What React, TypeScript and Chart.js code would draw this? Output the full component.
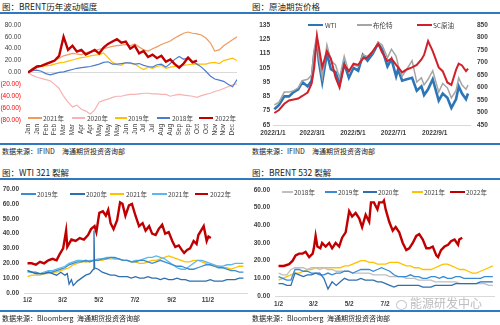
import React, { useEffect, useRef } from 'react';
import { Chart, registerables } from 'chart.js';
Chart.register(...registerables);

const FONT = '"Liberation Sans", Arial, sans-serif';
const CJK = '"Noto Sans CJK SC", "Liberation Sans", sans-serif';
const RULE = '#2F78C2';
const TXT = '#404040';

// ---------- Panel 1: BRENT历年波动幅度 ----------
const p1Months = ['Jan','Jan','Feb','Feb','Mar','Mar','Apr','Apr','May','May','May','Jun','Jun','Jul','Jul','Aug','Aug','Sep','Sep','Oct','Oct','Nov','Nov','Dec'];
const p1Y2021 = [0,3,8,11,15,18,20,24,28,30,32,31,30,33,35,37,39,40,42,44,45,46,47,45,48,43,38,36,40,43,47,50,53,58,62,66,68,66,65,63,58,50,36,38,45,50,55,60];
const p1Y2020 = [0,-5,-8,-10,-12,-14,-20,-27,-40,-50,-58,-55,-62,-65,-70,-63,-50,-47,-45,-42,-40,-40,-38,-37,-37,-36,-35,-35,-36,-36,-37,-37,-40,-38,-37,-38,-39,-40,-42,-39,-37,-35,-32,-30,-27,-24,-21,-19];
const p1Y2019 = [0,7,9,10,11,12,14,16,17,19,21,23,25,26,28,29,30,33,25,17,13,12,17,15,14,9,5,9,7,10,12,7,9,10,11,12,13,14,14,14,14,16,17,15,20,22,24,20];
const p1Y2018 = [0,3,4,2,-2,-4,-2,0,1,3,5,7,8,9,10,12,14,17,18,14,14,15,16,16,14,15,12,10,9,13,14,9,15,22,27,22,25,18,14,9,2,-6,-11,-13,-15,-20,-24,-12];
const p1Y2022 = [0,5,10,11,14,17,20,28,60,38,45,35,38,30,34,38,32,42,48,52,56,50,52,40,45,32,36,26,30,24,28,18,22,14,8,15,25,17,20];

// ---------- Panel 2: 原油期货价格 ----------
const p2TickDays = [0, 59, 120, 181, 243];
const p2TickLabels = ['2022/1/1', '2022/3/1', '2022/5/1', '2022/7/1', '2022/9/1'];
const p2Days = [2,9,17,24,31,38,44,52,58,62,66,69,74,81,87,94,100,107,114,121,128,135,142,150,158,164,172,178,185,188,194,201,209,216,223,227,233,240,249,255,262,268,275,279,284,290,293];
const p2WTI = [76,79,85,85,88,90,95,92,96,115,123,109,95,115,104,102,94,108,98,105,103,114,110,115,122,118,106,111,99,104,96,97,98,89,92,86,90,97,82,87,84,77,83,92,87,83,87];
const p2Brent = [79,81,88,88,89,91,96,97,100,118,128,112,98,121,110,107,98,113,102,107,106,114,113,116,123,121,112,118,113,107,99,104,110,95,98,93,97,103,88,94,91,84,89,98,93,90,93];
const p2SC = [498,510,535,548,552,556,566,580,615,680,805,760,680,745,715,640,600,690,665,695,690,715,720,745,775,740,705,715,690,680,660,672,680,690,712,730,785,745,680,665,620,610,670,695,688,665,675];

// ---------- Panels 3 & 4: shared weekly grid ----------
const weekDays = [1,8,15,22,29,36,43,50,57,64,71,78,85,92,99,106,113,120,127,134,141,148,155,162,169,176,183,190,197,204,211,218,225,232,239,246,253,260,267,274,281,288,295,302,309,316,323,330,337,344,351,358,365];
const crackTickDays = [1, 60, 121, 182, 244, 305];
const crackTickLabels = ['1/2', '3/2', '5/2', '7/2', '9/2', '11/2'];

// ---------- Panel 3: WTI 321 裂解 ----------
const p3Y2019 = [15,14,14,13,13,14,14,15,16,17,19,20,21,21,22,21,22,22,23,23,24,24,23,22,22,21,21,22,22,21,20,21,22,21,20,19,18,18,17,16,16,17,18,19,19,18,17,17,16,15,15,14,14];
const p3Days2020 = [1,8,15,22,29,36,43,50,57,64,68,71,75,78,85,92,99,106,112,113,114,120,127,134,141,148,155,162,169,176,183,190,197,204,211,218,225,232,239,246,253,260,267,274,281,288,295,302,309,316,323,330,337,344,351,358,365];
const p3Y2020 = [15,14,13,13,13,14,13,12,14,12,13,6,9,5,8,10,12,13,16,42,17,16,14,13,12,12,11,11,11,10,11,10,10,11,10,10,9,10,9,9,10,9,9,8,8,8,8,8,9,8,8,8,9,9,9,10,10];
const p3Y2021 = [11,12,12,12,13,13,14,14,15,16,17,19,20,21,21,21,22,22,22,23,23,23,23,22,22,21,21,20,20,21,22,22,23,24,25,24,23,22,21,21,22,22,21,20,19,18,18,17,17,16,17,18,18];
const p3Y2021b = [14,14,13,13,14,15,15,16,17,18,20,21,22,22,21,22,22,23,23,24,24,23,23,22,22,21,22,22,23,24,24,25,24,23,21,19,17,16,16,18,20,22,22,21,20,19,18,18,19,19,20,20,20];
const p3Days2022 = [1,8,15,22,29,36,43,50,55,61,66,68,75,82,89,96,103,108,114,117,122,128,133,137,141,146,152,157,161,166,172,177,183,189,195,200,206,211,217,222,228,233,239,245,250,256,261,265,270,275,281,286,289,295,298,300,303,306,310];
const p3Y2022 = [20,20,19,21,20,22,23,22,26,30,42,31,36,35,37,36,39,43,45,41,54,55,52,56,47,43,49,61,60,52,59,60,52,45,47,42,45,40,39,43,46,40,41,35,31,32,29,27,29,30,35,33,39,43,45,41,35,38,37];

// ---------- Panel 4: BRENT 532 裂解 ----------
const p4Y2018 = [13,12,12,15,16,16,16,15,16,16,15,16,15,15,14,14,14,14,13,13,13,13,13,12,12,12,12,11,11,11,11,10,10,10,9,9,9,9,8,8,8,8,8,8,7,7,7,7,7,7,7,6,6];
const p4Y2019 = [11,10,9,9,15,15,14,14,13,13,12,12,13,12,13,13,14,14,13,14,15,15,15,14,15,16,15,14,12,11,11,11,12,11,11,10,10,11,11,10,11,10,10,11,11,10,10,10,10,10,11,11,11];
const p4Y2020 = [7,7,6,6,13,12,11,12,12,13,13,10,4,8,6,8,10,9,9,9,10,9,9,9,8,8,7,6,5,6,6,6,6,6,6,5,5,5,6,6,6,6,6,7,7,7,7,7,7,8,8,8,8];
const p4Y2021 = [9,10,11,12,13,13,14,15,15,16,16,16,16,16,16,16,17,17,18,19,20,20,19,19,18,18,18,19,19,19,18,17,17,16,16,15,15,15,16,17,18,18,17,16,15,15,14,13,13,14,15,16,17];
const p4Days2022 = [1,10,19,25,30,36,42,47,53,59,61,64,67,72,75,81,87,92,98,104,109,115,121,126,132,138,143,149,155,158,163,169,172,178,180,183,189,195,200,206,212,218,223,229,235,240,246,252,257,263,269,272,277,283,289,294,300,306,308,313];
const p4Y2022 = [17,17,18,20,23,24,24,25,22,24,27,34,28,27,30,28,30,27,30,28,33,36,48,45,47,44,39,46,42,53,53,49,53,53,54,49,42,37,39,36,30,26,27,30,34,35,32,27,27,28,23,22,26,28,29,31,32,29,32,33];

// ---------- colours ----------
const C = {
  red: '#C00000',
  orange: '#F09A5E',
  pink: '#F5B3B3',
  yellow: '#FFC000',
  blue18: '#4D7BD0',
  wti: '#2E75B6',
  brent: '#A5A5A5',
  sc: '#D0202A',
  b2019: '#3A8BD4',
  b2020: '#2E6FB0',
  lblue: '#5CB8EA',
  gray: '#BFBFBF',
};

const xy = (xs: number[], ys: number[]) => ys.map((y, i) => ({ x: xs[i], y }));
const idx = (ys: number[]) => ys.map((y, i) => ({ x: i, y }));

const line = (label: string, data: any[], color: string, width = 1.2, yAxisID = 'y') => ({
  label, data, borderColor: color, backgroundColor: color, borderWidth: width,
  pointRadius: 0, tension: 0, fill: false, yAxisID,
});

const tickFont = { family: FONT, size: 6.5 };
const fixW = (w: number) => (s: any) => { s.width = w; };
const fixH = (h: number) => (s: any) => { s.height = h; };

const base = (padding: any) => ({
  animation: false as const,
  responsive: false,
  events: [],
  layout: { padding },
  plugins: { legend: { display: false }, tooltip: { enabled: false }, title: { display: false } },
});

const p1Config = () => ({
  type: 'line',
  data: {
    datasets: [
      line('2022年', idx(p1Y2022), C.red, 2.4),
      line('2018年', idx(p1Y2018), C.blue18),
      line('2019年', idx(p1Y2019), C.yellow),
      line('2020年', idx(p1Y2020), C.pink),
      line('2021年', idx(p1Y2021), C.orange),
    ],
  },
  options: {
    ...base({ left: 0, right: 13, top: 5, bottom: 0 }),
    scales: {
      x: {
        type: 'linear', min: 0, max: 47,
        afterFit: fixH(23),
        afterBuildTicks: (s: any) => { s.ticks = p1Months.map((_, i) => ({ value: i * 2 })); },
        ticks: {
          autoSkip: false, maxRotation: 90, minRotation: 90, padding: 4,
          font: tickFont, color: TXT,
          callback: (v: any) => p1Months[Math.round(v / 2)] ?? '',
        },
        grid: { display: false, drawTicks: false }, border: { display: false },
      },
      y: {
        min: -80, max: 80,
        afterFit: fixW(28),
        ticks: {
          stepSize: 20, padding: 7, font: tickFont,
          color: (ctx: any) => (ctx.tick && ctx.tick.value < 0 ? '#FF0000' : TXT),
          callback: (v: any) => (v < 0 ? `(${(-v).toFixed(2)})` : Number(v).toFixed(2)),
        },
        grid: {
          drawTicks: false, lineWidth: 1,
          color: (ctx: any) => (ctx.tick && ctx.tick.value === 0 ? '#D9D9D9' : 'rgba(0,0,0,0)'),
        },
        border: { display: false },
      },
    },
  },
});

const p2Config = () => ({
  type: 'line',
  data: {
    datasets: [
      line('SC原油', xy(p2Days, p2SC), C.sc, 2, 'y1'),
      line('布伦特', xy(p2Days, p2Brent), C.brent, 1.5),
      line('WTI', xy(p2Days, p2WTI), C.wti, 2.6),
    ],
  },
  options: {
    ...base({ left: 0, right: 0, top: 7, bottom: 0 }),
    scales: {
      x: {
        type: 'linear', min: 0, max: 296,
        afterFit: fixH(18),
        afterBuildTicks: (s: any) => { s.ticks = p2TickDays.map((d) => ({ value: d })); },
        ticks: {
          autoSkip: false, maxRotation: 0, padding: 4, font: { ...tickFont, weight: 'bold' }, color: TXT,
          callback: (v: any) => p2TickLabels[p2TickDays.indexOf(v)] ?? '',
        },
        grid: { display: false, drawTicks: false },
        border: { display: true, color: '#D9D9D9', width: 1 },
      },
      y: {
        min: 65, max: 135, afterFit: fixW(23),
        ticks: { stepSize: 10, padding: 3, font: { ...tickFont, weight: 'bold' }, color: TXT },
        grid: { display: false, drawTicks: false }, border: { display: false },
      },
      y1: {
        position: 'right', min: 450, max: 850, afterFit: fixW(30),
        ticks: { stepSize: 50, padding: 7, font: { ...tickFont, weight: 'bold' }, color: TXT },
        grid: { display: false, drawTicks: false }, border: { display: false },
      },
    },
  },
});

const crackConfig = (datasets: any[], yMax: number, xMax: number, ticks: number[], pad: any, yw: number, xh: number, xpad: number) => ({
  type: 'line',
  data: { datasets },
  options: {
    ...base(pad),
    scales: {
      x: {
        type: 'linear', min: -5, max: xMax,
        afterFit: fixH(xh),
        afterBuildTicks: (s: any) => { s.ticks = ticks.map((d) => ({ value: d })); },
        ticks: {
          autoSkip: false, maxRotation: 0, padding: xpad, font: { ...tickFont, weight: 'bold' }, color: TXT,
          callback: (v: any) => crackTickLabels[crackTickDays.indexOf(v)] ?? '',
        },
        grid: { display: false, drawTicks: false },
        border: { display: true, color: '#D9D9D9', width: 1 },
      },
      y: {
        min: 0, max: yMax, afterFit: fixW(yw),
        ticks: { stepSize: 10, padding: 5, font: { ...tickFont, weight: 'bold' }, color: TXT, callback: (v: any) => Number(v).toFixed(2) },
        grid: { display: false, drawTicks: false }, border: { display: false },
      },
    },
  },
});

const p3Config = () => crackConfig([
  line('2022年', xy(p3Days2022, p3Y2022), C.red, 2.4),
  line('2020年', xy(p3Days2020, p3Y2020), C.b2020, 1.3),
  line('2019年', xy(weekDays, p3Y2019), C.b2019, 1.3),
  line('2021年', xy(weekDays, p3Y2021b), C.lblue, 1.3),
  line('2021年', xy(weekDays, p3Y2021), C.yellow, 1.3),
], 70, 371, crackTickDays, { left: 0, right: 3, top: 9, bottom: 0 }, 24, 17, 3);

const p4Config = () => crackConfig([
  line('2022年', xy(p4Days2022, p4Y2022), C.red, 2.4),
  line('2020年', xy(weekDays, p4Y2020), C.b2020, 1.3),
  line('2019年', xy(weekDays, p4Y2019), C.b2019, 1.3),
  line('2018年', xy(weekDays, p4Y2018), C.gray, 1.3),
  line('2021年', xy(weekDays, p4Y2021), C.yellow, 1.3),
], 60, 367, crackTickDays.slice(0, 4), { left: 0, right: 6, top: 10, bottom: 0 }, 25, 14, 4);

function ChartBox({ make, left, top, width, height }: any) {
  const ref = useRef<HTMLCanvasElement>(null);
  useEffect(() => {
    const chart = new Chart(ref.current as HTMLCanvasElement, make() as any);
    return () => chart.destroy();
  }, []);
  return (
    <div style={{ position: 'absolute', left, top, width, height }}>
      <canvas ref={ref} width={width} height={height} style={{ display: 'block', width, height }} />
    </div>
  );
}

type LegendItem = { label: string; color: string; sx: number; sw: number; tx: number; lw?: number };

function Legend({ items, y }: { items: LegendItem[]; y: number }) {
  return (
    <>
      {items.map((it, i) => (
        <React.Fragment key={i}>
          <div style={{ position: 'absolute', left: it.sx, top: y - (it.lw ?? 1.5) / 2, width: it.sw, height: it.lw ?? 1.5, background: it.color }} />
          <span style={{ position: 'absolute', left: it.tx, top: y - 4, fontFamily: CJK, fontSize: 6.5, lineHeight: '8px', color: TXT, whiteSpace: 'nowrap' }}>{it.label}</span>
        </React.Fragment>
      ))}
    </>
  );
}

const Text = ({ children, left, top, size = 8.5, color = '#1A1A1A', weight = 400 }: any) => (
  <span style={{ position: 'absolute', left, top, fontFamily: CJK, fontSize: size, lineHeight: `${size + 2}px`, color, fontWeight: weight, whiteSpace: 'nowrap' }}>{children}</span>
);

const Rule = ({ top }: { top: number }) => (
  <div style={{ position: 'absolute', left: 0, top, width: 500, height: 2, background: RULE }} />
);

export default function App() {
  return (
    <div style={{ position: 'absolute', left: 0, top: 0, width: 500, height: 325, background: '#fff', overflow: 'hidden' }}>
      <Text left={2} top={1}>图：BRENT历年波动幅度</Text>
      <Text left={252} top={1}>图：原油期货价格</Text>
      <Rule top={12} />

      <ChartBox make={p1Config} left={0} top={14} width={250} height={129} />
      <ChartBox make={p2Config} left={250} top={14} width={250} height={129} />

      <Legend y={118} items={[
        { label: '2021年', color: C.orange, sx: 28, sw: 14, tx: 43 },
        { label: '2020年', color: C.pink, sx: 72, sw: 13, tx: 87 },
        { label: '2019年', color: C.yellow, sx: 115, sw: 12, tx: 128 },
        { label: '2018年', color: C.blue18, sx: 157, sw: 13, tx: 172 },
        { label: '2022年', color: C.red, sx: 199, sw: 14, tx: 215, lw: 2.5 },
      ]} />
      <Legend y={25} items={[
        { label: 'WTI', color: C.wti, sx: 308, sw: 15, tx: 325, lw: 2.5 },
        { label: '布伦特', color: C.brent, sx: 357, sw: 15, tx: 373 },
        { label: 'SC原油', color: C.sc, sx: 417, sw: 15, tx: 433, lw: 2 },
      ]} />

      <Rule top={143} />
      <Text left={2} top={147} size={7}>数据来源：IFIND</Text>
      <Text left={62} top={147} size={7}>海通期货投资咨询部</Text>
      <Text left={252} top={147} size={7}>数据来源：IFIND</Text>
      <Text left={312} top={147} size={7}>海通期货投资咨询部</Text>

      <Text left={2} top={167}>图：WTI 321 裂解</Text>
      <Text left={252} top={167}>图：BRENT 532 裂解</Text>
      <Rule top={178} />

      <ChartBox make={p3Config} left={0} top={180} width={250} height={130} />
      <ChartBox make={p4Config} left={250} top={180} width={250} height={130} />

      <Legend y={194} items={[
        { label: '2019年', color: C.b2019, sx: 21, sw: 15, tx: 37 },
        { label: '2020年', color: C.b2020, sx: 70, sw: 15, tx: 86 },
        { label: '2021年', color: C.yellow, sx: 110, sw: 14, tx: 126 },
        { label: '2021年', color: C.lblue, sx: 152, sw: 15, tx: 168 },
        { label: '2022年', color: C.red, sx: 195, sw: 13, tx: 210, lw: 2.5 },
      ]} />
      <Legend y={192} items={[
        { label: '2018年', color: C.gray, sx: 282, sw: 11, tx: 294 },
        { label: '2019年', color: C.b2019, sx: 325, sw: 12, tx: 338 },
        { label: '2020年', color: C.b2020, sx: 363, sw: 14, tx: 378 },
        { label: '2021年', color: C.yellow, sx: 412, sw: 11, tx: 424 },
        { label: '2022年', color: C.red, sx: 450, sw: 15, tx: 466, lw: 2.5 },
      ]} />

      <div style={{ position: 'absolute', left: 392, top: 298, width: 100, height: 12, background: 'rgba(255,255,255,0.85)' }} />
      <div style={{ position: 'absolute', left: 396, top: 300, width: 9, height: 8, borderRadius: '50%', border: '1px solid #C8C8C8' }} />
      <Text left={410} top={296} size={12} color="#BDBDBD">能源研发中心</Text>

      <Rule top={310} />
      <Text left={2} top={314} size={7}>数据来源：Bloomberg</Text>
      <Text left={77} top={314} size={7}>海通期货投资咨询部</Text>
      <Text left={252} top={314} size={7}>数据来源：Bloomberg</Text>
      <Text left={327} top={314} size={7}>海通期货投资咨询部</Text>
    </div>
  );
}
